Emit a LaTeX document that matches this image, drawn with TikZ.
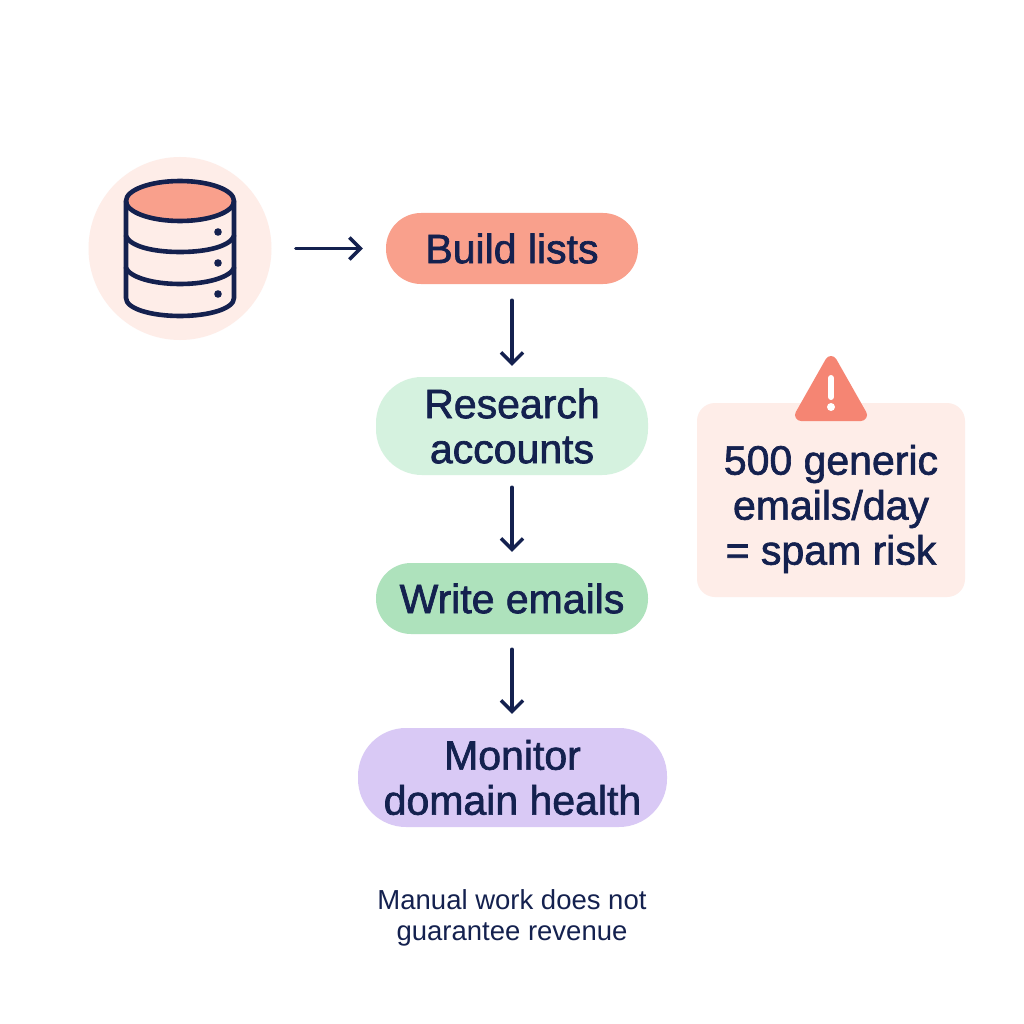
\documentclass[tikz,border=0pt]{standalone}
\usepackage{fontspec}
\usetikzlibrary{arrows.meta,shapes.geometric}
\setmainfont{Liberation Sans}
\newfontfamily\medfont[FakeBold=1.6]{Liberation Sans}
\definecolor{ink}{HTML}{14214F}
\definecolor{salmon}{HTML}{F9A08C}
\definecolor{mint}{HTML}{D5F2DF}
\definecolor{green}{HTML}{AEE2BC}
\definecolor{lilac}{HTML}{D9C9F5}
\definecolor{blush}{HTML}{FEEDE8}
\definecolor{alert}{HTML}{F58573}
\tikzset{
 pill/.style={rounded corners=#1, inner sep=0pt, text=ink, align=center, font=\medfont\fontsize{41}{45}\selectfont},
 link/.style={draw=ink, line width=3.4pt, line cap=round, line join=round, -{Straight Barb[length=11pt,width=22pt,line width=3.4pt]}},
 dbline/.style={draw=ink, line width=4.6pt, line cap=round, line join=round},
}
\begin{document}
\begin{tikzpicture}[x=1pt,y=-1pt]
\useasboundingbox (0,0) rectangle (1024,1024);
\fill[white] (0,0) rectangle (1024,1024);
% database icon
\node[circle, fill=blush, minimum size=183pt, inner sep=0pt] (dbc) at (180,248.5) {};
\fill[salmon] (180,201) ellipse [x radius=54, y radius=20];
\draw[dbline] (180,201) ellipse [x radius=54, y radius=20];
\draw[dbline] (126,201) -- (126,298) .. controls (126,309) and (152,316) .. (180,316) .. controls (208,316) and (234,309) .. (234,298) -- (234,201);
\draw[dbline] (126,236) .. controls (130,246) and (152,252) .. (180,252) .. controls (208,252) and (230,246) .. (234,236);
\draw[dbline] (126,268) .. controls (130,277) and (152,284) .. (180,284) .. controls (208,284) and (230,277) .. (234,268);
\fill[ink] (218,232) circle (3.8) (218,263) circle (3.8) (218,294) circle (3.8);
% pills
\node[pill=35pt, fill=salmon, minimum width=252pt, minimum height=71pt] (build) at (512,248.5) {Build lists};
\node[pill=46pt, fill=mint, minimum width=272pt, minimum height=98pt] (research) at (512,426) {Research\\accounts};
\node[pill=35pt, fill=green, minimum width=272pt, minimum height=71pt] (write) at (512,598.5) {Write emails};
\node[pill=48pt, fill=lilac, minimum width=309pt, minimum height=99pt] (monitor) at (512.5,777.5) {Monitor\\domain health};
% warning
\node[pill=18pt, fill=blush, minimum width=268pt, minimum height=194pt] (warn) at (831,500) {};
\node[text=ink, align=center, inner sep=0pt, font=\medfont\fontsize{41}{45}\selectfont] (warntext) at (831,509) {500 generic\\emails/day\\= spam risk};
\fill[alert, draw=alert, line width=12pt, line join=round] (831,362) -- (861,415) -- (801,415) -- cycle;
\draw[white, line width=6pt, line cap=round] (831,378) -- (831,397);
\fill[white] (831,407) circle (4);
% caption
\node[text=ink, align=center, inner sep=0pt, font=\fontsize{27.5}{31}\selectfont] (cap) at (512,918) {Manual work does not\\guarantee revenue};
% connectors
\draw[link, shorten <=24pt, shorten >=23pt] (dbc.east) -- (build.west);
\draw[link, shorten <=16pt, shorten >=11pt] (build.south) -- (research.north);
\draw[link, shorten <=12pt, shorten >=11pt] (research.south) -- (write.north);
\draw[link, shorten <=15pt, shorten >=14pt] (write.south) -- (monitor.north -| write.south);
\end{tikzpicture}
\end{document}
